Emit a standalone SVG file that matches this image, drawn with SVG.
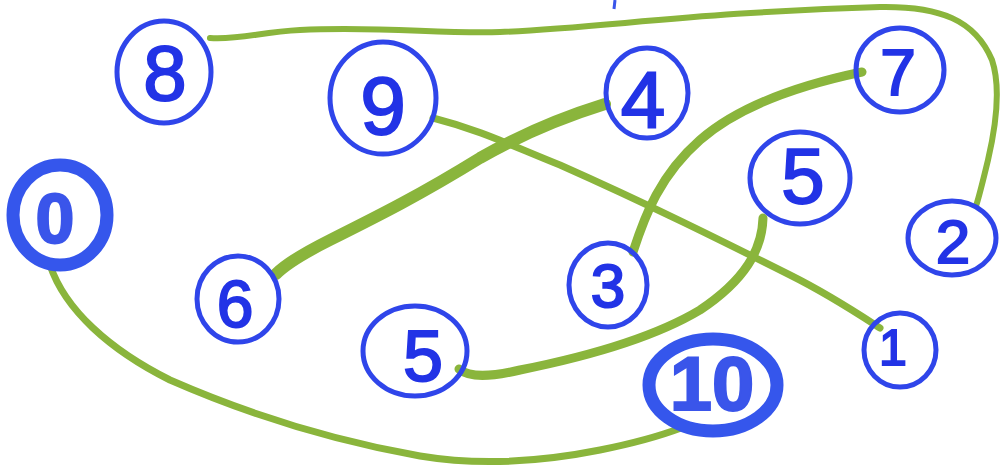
<svg xmlns="http://www.w3.org/2000/svg" width="1003" height="470" viewBox="0 0 1003 470">
<style>
.ring{fill:none;stroke:#2f45ea;stroke-width:5}
.ring.big{stroke-width:13;stroke:#3556ec}
.num{font-family:"Liberation Sans",Arial,sans-serif;fill:#2233e6;stroke:#2233e6;stroke-width:2;text-anchor:middle}
.num.big{font-weight:bold;fill:#3a55ea;stroke:#3a55ea}
.edge{fill:none;stroke:#8ab53c;stroke-linecap:round;stroke-linejoin:round}
</style>
<rect width="1003" height="470" fill="#ffffff"/>
<g id="connectors">
<path class="edge" stroke-width="6" d="M210,38 C240,40 260,32 300,30 C380,26 440,34 500,32 C600,28 700,12 880,7 C940,6 975,20 992,60 C1002,90 995,130 988,160 C982,185 978,200 976,206"/>
<path class="edge" stroke-width="7" d="M433,118 C480,130 510,145 560,165 C650,205 720,240 790,275 C830,295 860,315 880,328"/>
<path class="edge" stroke-width="12" d="M605,104 C560,118 520,135 480,158 C420,195 380,215 330,240 C300,255 285,265 276,274"/>
<path class="edge" stroke-width="9" d="M862,72 C800,85 740,105 700,140 C660,175 645,215 633,252"/>
<path class="edge" stroke-width="9" d="M763,218 C762,250 745,280 700,310 C650,340 580,358 520,370 C490,377 470,378 459,369"/>
<path class="edge" stroke-width="7" d="M50,265 C65,310 110,350 170,380 C250,415 330,440 420,456 C480,466 540,462 600,450 C640,442 665,434 681,428"/>
</g>
<path d="M615,0 L614,9" stroke="#3a55ea" stroke-width="3" fill="none"/>
<g id="node8"><ellipse class="ring" cx="164" cy="72" rx="47" ry="51"/><text class="num" x="165" y="100" font-size="78">8</text></g>
<g id="node9"><ellipse class="ring" cx="383" cy="98" rx="53" ry="56"/><text class="num" x="383" y="134" font-size="82">9</text></g>
<g id="node0"><ellipse class="ring big" cx="60" cy="215" rx="47" ry="50"/><text class="num big" x="55" y="243" font-size="70">0</text></g>
<g id="node4"><ellipse class="ring" cx="647" cy="93" rx="41" ry="45"/><text class="num" x="643" y="127" font-size="80">4</text></g>
<g id="node7"><ellipse class="ring" cx="900" cy="70" rx="44" ry="42"/><text class="num" x="898" y="95" font-size="64">7</text></g>
<g id="node5a"><ellipse class="ring" cx="800" cy="178" rx="50" ry="46"/><text class="num" x="803" y="203" font-size="78">5</text></g>
<g id="node2"><ellipse class="ring" cx="952" cy="238" rx="44" ry="37"/><text class="num" x="953" y="263" font-size="62">2</text></g>
<g id="node6"><ellipse class="ring" cx="238" cy="299" rx="41" ry="43"/><text class="num" x="235" y="327" font-size="66">6</text></g>
<g id="node5b"><ellipse class="ring" cx="415" cy="351" rx="52" ry="45"/><text class="num" x="423" y="381" font-size="72">5</text></g>
<g id="node3"><ellipse class="ring" cx="608" cy="285" rx="39" ry="42"/><text class="num" x="608" y="307" font-size="62">3</text></g>
<g id="node1"><ellipse class="ring" cx="900" cy="350" rx="36" ry="37"/><text class="num" x="893" y="365" font-size="50">1</text></g>
<g id="node10"><ellipse class="ring big" cx="713" cy="385" rx="64" ry="46"/><text class="num big" x="712" y="410" font-size="76">10</text></g>
</svg>
